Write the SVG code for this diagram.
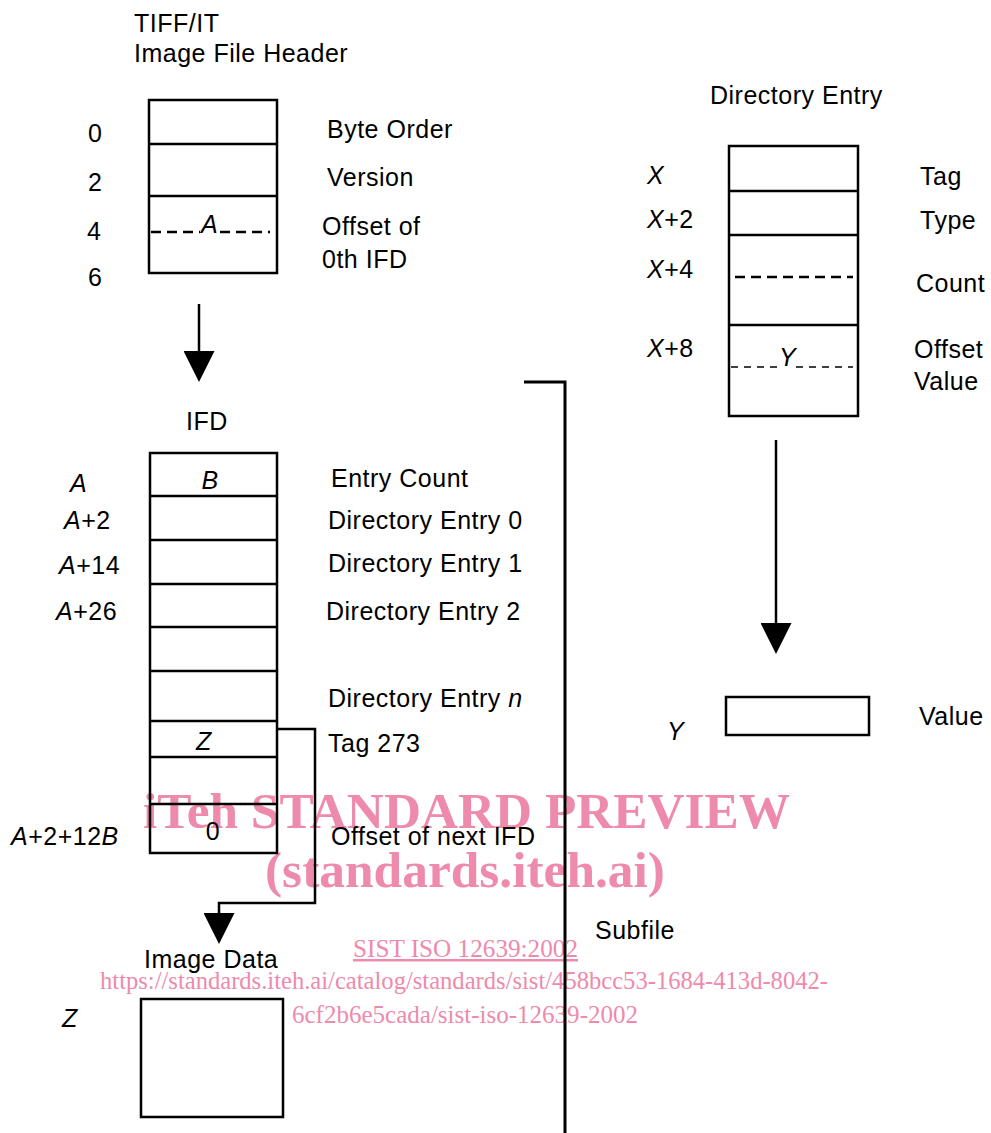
<svg xmlns="http://www.w3.org/2000/svg" width="991" height="1133" viewBox="0 0 991 1133">
<style>
text{font-family:"Liberation Sans",Arial,sans-serif;font-size:25px;letter-spacing:0.5px;fill:#000}
.i{font-style:italic}
.box{fill:none;stroke:#000;stroke-width:2.5}
.ln{stroke:#000;stroke-width:2.5;fill:none}
.dash{stroke:#000;stroke-width:2.5;stroke-dasharray:10 6;fill:none}
.dash2{stroke:#000;stroke-width:1.6;stroke-dasharray:7 6;fill:none}
.wm{font-family:"Liberation Serif","Times New Roman",serif;fill:#ee8aab;letter-spacing:0}
.wmb{font-weight:bold;font-size:50px}
.wms{font-size:24.5px}
</style>
<defs>
<marker id="arr" viewBox="0 0 31 31" refX="0" refY="15.5" markerWidth="31" markerHeight="31" markerUnits="userSpaceOnUse" orient="auto">
<path d="M0,0 L31,15.5 L0,31 Z" fill="#000"/>
</marker>
</defs>

<g id="watermark">
<text class="wm wmb" x="143" y="828" textLength="647" lengthAdjust="spacingAndGlyphs">iTeh STANDARD PREVIEW</text>
<text class="wm wmb" x="265" y="887" textLength="400" lengthAdjust="spacingAndGlyphs">(standards.iteh.ai)</text>
<text class="wm wms" x="353" y="957" textLength="225" lengthAdjust="spacingAndGlyphs" text-decoration="underline">SIST ISO 12639:2002</text>
<text class="wm wms" x="100" y="989" textLength="728" lengthAdjust="spacingAndGlyphs">https://standards.iteh.ai/catalog/standards/sist/458bcc53-1684-413d-8042-</text>
<text class="wm wms" x="292" y="1023" textLength="346" lengthAdjust="spacingAndGlyphs">6cf2b6e5cada/sist-iso-12639-2002</text>
</g>

<g id="header">
<text x="134" y="32">TIFF/IT</text>
<text x="134" y="62">Image File Header</text>
<rect class="box" x="149" y="100" width="128" height="173"/>
<line class="ln" x1="149" y1="144" x2="277" y2="144"/>
<line class="ln" x1="149" y1="196" x2="277" y2="196"/>
<line class="dash" x1="151" y1="232" x2="200" y2="232"/>
<line class="dash" x1="220" y1="232" x2="270" y2="232"/>
<text class="i" x="201" y="233">A</text>
<text x="88" y="142">0</text>
<text x="88" y="191">2</text>
<text x="87" y="240">4</text>
<text x="88" y="286">6</text>
<text x="327" y="138">Byte Order</text>
<text x="327" y="186">Version</text>
<text x="322" y="235">Offset of</text>
<text x="322" y="268">0th IFD</text>
</g>

<g id="ifd">
<text x="207" y="430" text-anchor="middle">IFD</text>
<rect class="box" x="150" y="453" width="127" height="400"/>
<line class="ln" x1="150" y1="496" x2="277" y2="496"/>
<line class="ln" x1="150" y1="540" x2="277" y2="540"/>
<line class="ln" x1="150" y1="584" x2="277" y2="584"/>
<line class="ln" x1="150" y1="627" x2="277" y2="627"/>
<line class="ln" x1="150" y1="671" x2="277" y2="671"/>
<line class="ln" x1="150" y1="721" x2="277" y2="721"/>
<line class="ln" x1="150" y1="757" x2="277" y2="757"/>
<line class="ln" x1="150" y1="804" x2="277" y2="804"/>
<text class="i" x="210" y="489" text-anchor="middle">B</text>
<text class="i" x="204" y="750" text-anchor="middle">Z</text>
<text x="213" y="840" text-anchor="middle">0</text>
<text class="i" x="70" y="492">A</text>
<text x="64" y="529"><tspan class="i">A</tspan>+2</text>
<text x="59" y="574"><tspan class="i">A</tspan>+14</text>
<text x="56" y="620"><tspan class="i">A</tspan>+26</text>
<text x="11" y="845"><tspan class="i">A</tspan>+2+12<tspan class="i">B</tspan></text>
<text x="331" y="487">Entry Count</text>
<text x="328" y="529">Directory Entry 0</text>
<text x="328" y="572">Directory Entry 1</text>
<text x="326" y="620">Directory Entry 2</text>
<text x="328" y="707">Directory Entry <tspan class="i">n</tspan></text>
<text x="328" y="752">Tag 273</text>
<text x="331" y="845">Offset of next IFD</text>
</g>

<g id="image-data">
<text x="144" y="968">Image Data</text>
<rect class="box" x="141" y="999" width="142" height="118"/>
<text class="i" x="62" y="1027">Z</text>
</g>

<g id="directory-entry">
<text x="710" y="104">Directory Entry</text>
<rect class="box" x="729" y="146" width="129" height="270"/>
<line class="ln" x1="729" y1="191" x2="858" y2="191"/>
<line class="ln" x1="729" y1="235" x2="858" y2="235"/>
<line class="ln" x1="729" y1="325" x2="858" y2="325"/>
<line class="dash" x1="735" y1="277" x2="853" y2="277"/>
<line class="dash2" x1="731" y1="367" x2="780" y2="367"/>
<line class="dash2" x1="796" y1="367" x2="853" y2="367"/>
<text class="i" x="779" y="366">Y</text>
<text class="i" x="647" y="184">X</text>
<text x="647" y="228"><tspan class="i">X</tspan>+2</text>
<text x="647" y="278"><tspan class="i">X</tspan>+4</text>
<text x="647" y="357"><tspan class="i">X</tspan>+8</text>
<text x="920" y="185">Tag</text>
<text x="920" y="229">Type</text>
<text x="916" y="292">Count</text>
<text x="914" y="358">Offset</text>
<text x="914" y="390">Value</text>
</g>

<g id="value">
<rect class="box" x="726" y="697" width="143" height="38"/>
<text class="i" x="667" y="740">Y</text>
<text x="919" y="725">Value</text>
</g>

<g id="subfile">
<polyline class="ln" points="524,382 565,382 565,1133" style="stroke-width:3"/>
<text x="595" y="939">Subfile</text>
</g>

<g id="connectors">
<line class="ln" x1="199" y1="304" x2="199" y2="351" marker-end="url(#arr)"/>
<line class="ln" x1="776" y1="440" x2="776" y2="623" marker-end="url(#arr)"/>
<polyline class="ln" points="277,729 315,729 315,903 219,903 219,913" marker-end="url(#arr)"/>
</g>
</svg>
